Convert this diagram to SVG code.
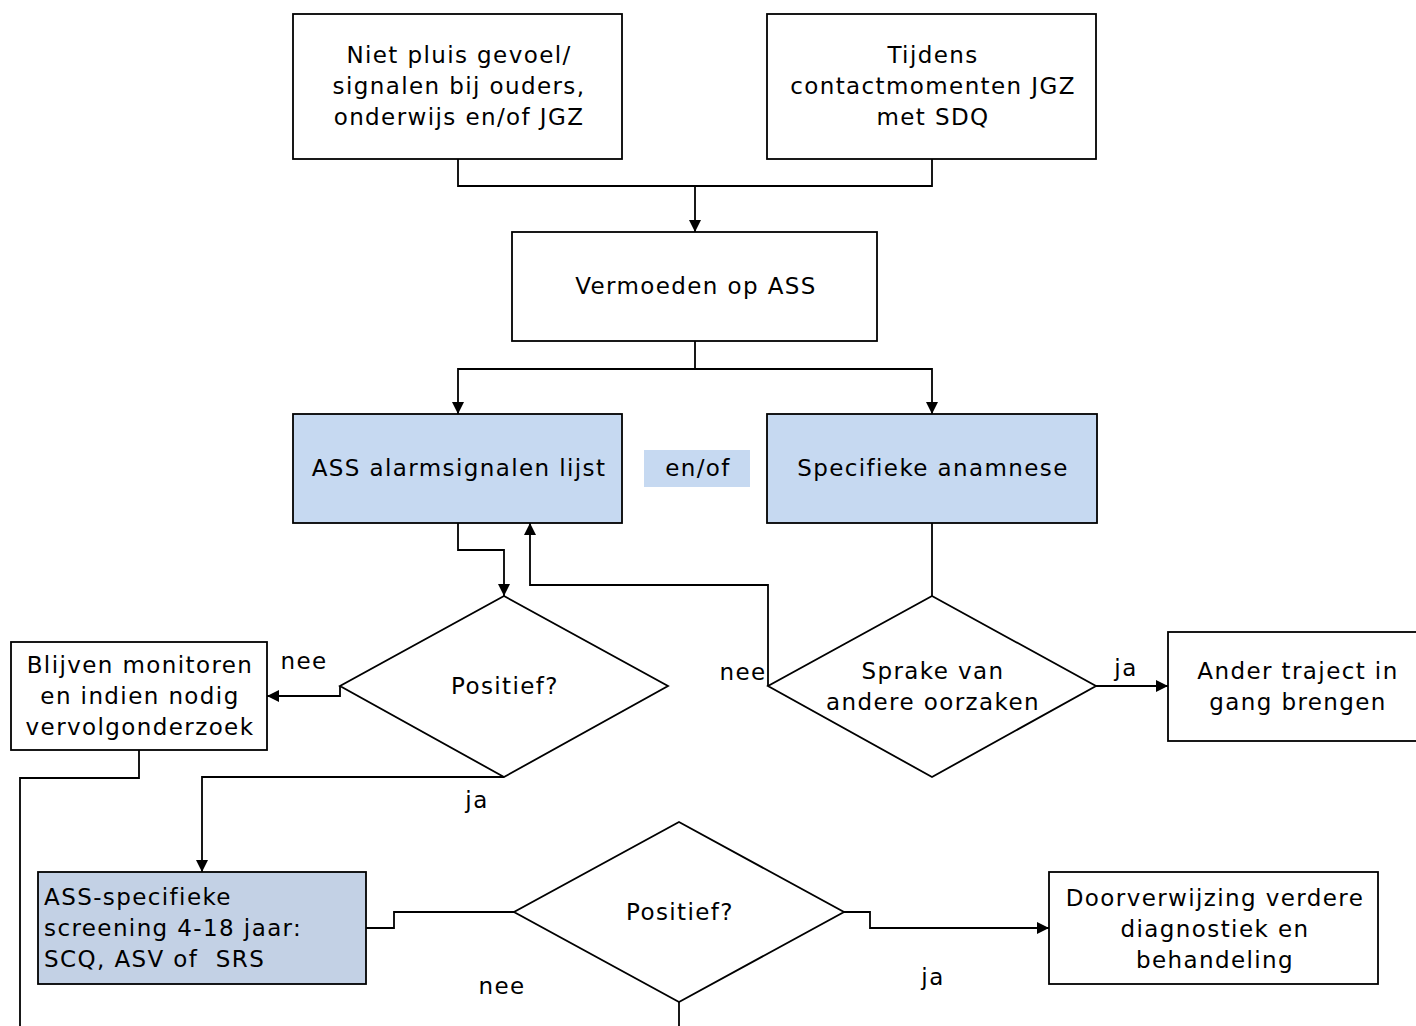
<svg xmlns="http://www.w3.org/2000/svg" width="1416" height="1026" viewBox="0 0 1416 1026">
<defs>
<style>
.box{fill:#fff;stroke:#000;stroke-width:1.8}
.blue{fill:#c6d9f1;stroke:#000;stroke-width:1.8}
.blue2{fill:#c3d1e5;stroke:#000;stroke-width:1.8}
.dia{fill:#fff;stroke:#000;stroke-width:1.8}
.t{font-family:"DejaVu Sans",Verdana,sans-serif;font-size:23px;letter-spacing:1.4px;fill:#000;text-anchor:middle}
.tl{font-family:"DejaVu Sans",Verdana,sans-serif;font-size:23px;letter-spacing:1.4px;fill:#000;text-anchor:start}
.c{fill:none;stroke:#000;stroke-width:1.8}
</style>
<marker id="ah" viewBox="0 0 12 12" refX="12" refY="6" markerWidth="12" markerHeight="12" markerUnits="userSpaceOnUse" orient="auto">
<path d="M0,0 L12,6 L0,12 z" fill="#000"/>
</marker>
</defs>
<rect width="1416" height="1026" fill="#fff"/>
<g id="connectors">
<path class="c" d="M458,159 V186 H932 V159"/>
<path class="c" d="M695,186 V232" marker-end="url(#ah)"/>
<path class="c" d="M695,341 V369 H458 V414" marker-end="url(#ah)"/>
<path class="c" d="M695,369 H932 V414" marker-end="url(#ah)"/>
<path class="c" d="M458,523 V550 H504 V596" marker-end="url(#ah)"/>
<path class="c" d="M932,523 V596"/>
<path class="c" d="M768,686 V585 H530 V523" marker-end="url(#ah)"/>
<path class="c" d="M1096,686 H1168" marker-end="url(#ah)"/>
<path class="c" d="M340,686 V696 H267" marker-end="url(#ah)"/>
<path class="c" d="M139,750 V778 H20 V1026"/>
<path class="c" d="M504,777 H202 V872" marker-end="url(#ah)"/>
<path class="c" d="M366,928 H394 V912 H514"/>
<path class="c" d="M844,912 H870 V928 H1049" marker-end="url(#ah)"/>
<path class="c" d="M679,1002 V1026"/>
</g>
<g id="n1">
<rect class="box" x="293" y="14" width="329" height="145"/>
<text class="t" x="459" y="63">Niet pluis gevoel/</text>
<text class="t" x="459" y="94">signalen bij ouders,</text>
<text class="t" x="459" y="125">onderwijs en/of JGZ</text>
</g>
<g id="n2">
<rect class="box" x="767" y="14" width="329" height="145"/>
<text class="t" x="933" y="63">Tijdens</text>
<text class="t" x="933" y="94">contactmomenten JGZ</text>
<text class="t" x="933" y="125">met SDQ</text>
</g>
<g id="n3">
<rect class="box" x="512" y="232" width="365" height="109"/>
<text class="t" x="696" y="294">Vermoeden op ASS</text>
</g>
<g id="n4">
<rect class="blue" x="293" y="414" width="329" height="109"/>
<text class="t" x="459" y="476">ASS alarmsignalen lijst</text>
</g>
<g id="label-enof">
<rect x="644" y="450" width="106" height="37" fill="#c6d9f1"/>
<text class="t" x="698" y="476">en/of</text>
</g>
<g id="n5">
<rect class="blue" x="767" y="414" width="330" height="109"/>
<text class="t" x="933" y="476">Specifieke anamnese</text>
</g>
<g id="d1">
<polygon class="dia" points="504,596 668,686 504,777 340,686"/>
<text class="t" x="505" y="694">Positief?</text>
</g>
<g id="d2">
<polygon class="dia" points="932,596 1096,686 932,777 768,686"/>
<text class="t" x="933" y="679">Sprake van</text>
<text class="t" x="933" y="710">andere oorzaken</text>
</g>
<g id="n6">
<rect class="box" x="1168" y="632" width="260" height="109"/>
<text class="t" x="1298" y="679">Ander traject in</text>
<text class="t" x="1298" y="710">gang brengen</text>
</g>
<g id="n7">
<rect class="box" x="11" y="642" width="256" height="108"/>
<text class="t" x="140" y="673">Blijven monitoren</text>
<text class="t" x="140" y="704">en indien nodig</text>
<text class="t" x="140" y="735">vervolgonderzoek</text>
</g>
<g id="n8">
<rect class="blue2" x="38" y="872" width="328" height="112"/>
<text class="tl" x="44" y="905">ASS-specifieke</text>
<text class="tl" x="44" y="936">screening 4-18 jaar:</text>
<text class="tl" x="44" y="967">SCQ, ASV of&#160; SRS</text>
</g>
<g id="d3">
<polygon class="dia" points="679,822 844,912 679,1002 514,912"/>
<text class="t" x="680" y="920">Positief?</text>
</g>
<g id="n9">
<rect class="box" x="1049" y="872" width="329" height="112"/>
<text class="t" x="1215" y="906">Doorverwijzing verdere</text>
<text class="t" x="1215" y="937">diagnostiek en</text>
<text class="t" x="1215" y="968">behandeling</text>
</g>
<g id="labels">
<text class="t" x="304" y="669">nee</text>
<text class="t" x="743" y="680">nee</text>
<text class="t" x="1126" y="676">ja</text>
<text class="t" x="477" y="808">ja</text>
<text class="t" x="502" y="994">nee</text>
<text class="t" x="933" y="985">ja</text>
</g>
</svg>
